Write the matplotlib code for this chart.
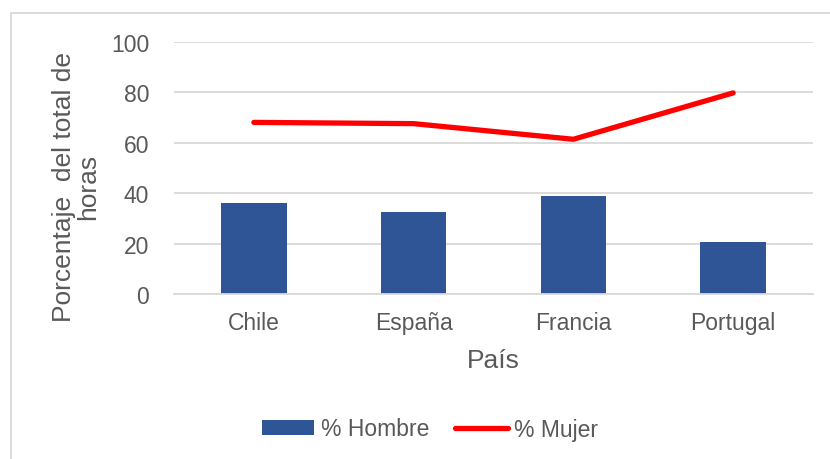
import matplotlib
matplotlib.use("Agg")
import matplotlib.pyplot as plt
from matplotlib.patches import Rectangle

plt.rcParams['font.family'] = ['Liberation Sans', 'DejaVu Sans']

paises = ["Chile", "España", "Francia", "Portugal"]
hombre = [36.2, 32.6, 39.0, 20.6]
mujer = [68.1, 67.6, 61.4, 79.8]
yticks = [0, 20, 40, 60, 80, 100]

TXT = "#595959"
GRID = "#D9D9D9"
W, H = 830, 460

fig = plt.figure(figsize=(W / 100, H / 100), dpi=100)
ax = fig.add_axes([174 / W, 1 - 295 / H, (813 - 174) / W, (295 - 43) / H])

x = list(range(len(paises)))
bars = ax.bar(x, hombre, width=0.41, color="#2F5597", label="% Hombre", zorder=2)
line, = ax.plot(x, mujer, color="#FF0000", lw=3.8, solid_capstyle="round",
                solid_joinstyle="round", label="% Mujer", zorder=3)

ax.set_xlim(-0.5, len(paises) - 0.5)
ax.set_ylim(0, 100)
ax.set_yticks(yticks)
ax.set_yticklabels([str(v) for v in yticks])
ax.set_xticks(x)
ax.set_xticklabels(paises)
ax.grid(axis="y", color=GRID, lw=1.3, zorder=0)
ax.set_axisbelow(True)
for s in ["top", "right", "left"]:
    ax.spines[s].set_visible(False)
ax.spines["bottom"].set_color(GRID)
ax.spines["bottom"].set_linewidth(1.3)
ax.spines["bottom"].set_zorder(4)
ax.tick_params(axis="both", length=0, labelsize=16.5, labelcolor=TXT)
ax.tick_params(axis="y", pad=18)
ax.tick_params(axis="x", pad=12)

fig.text(493 / W, 1 - 361 / H, "País", fontsize=19, color=TXT,
         ha="center", va="center")
fig.text(76 / W, 1 - 187 / H, "Porcentaje  del total de\nhoras", fontsize=19,
         color=TXT, rotation=90, ha="center", va="center",
         multialignment="center", linespacing=1.0)

leg = fig.legend([bars, line], ["% Hombre", "% Mujer"], loc="center",
                 bbox_to_anchor=(430 / W, 1 - 430 / H),
                 ncol=2, frameon=False, fontsize=16.5, handlelength=2.3,
                 handletextpad=0.3, columnspacing=1.1, handleheight=0.65)
for t in leg.get_texts():
    t.set_color(TXT)

fig.patches.append(Rectangle((11 / W, -0.1), 1.2, 1 - 14 / H + 0.1,
                             transform=fig.transFigure, fill=False,
                             edgecolor=GRID, lw=1.3))

fig.savefig("out.png", dpi=100)
